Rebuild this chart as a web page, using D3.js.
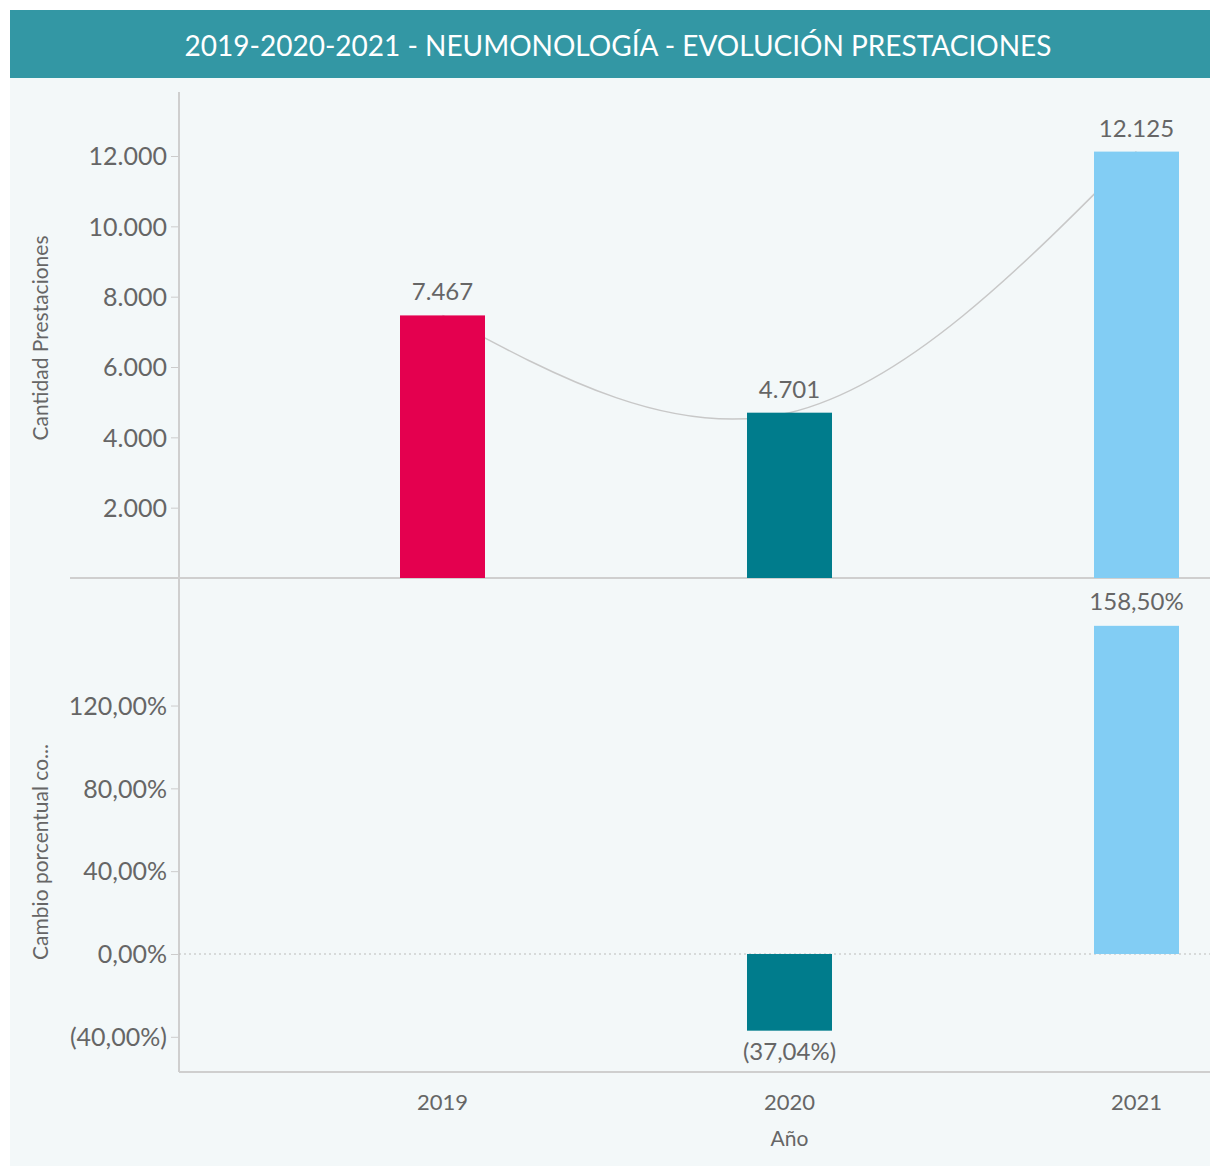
<!DOCTYPE html>
<html>
<head>
<meta charset="utf-8">
<script src="https://cdn.jsdelivr.net/npm/d3@7"></script>
<style>
  body { margin: 0; background: #fff; font-family: Lato, "Open Sans", sans-serif; }
  .tick text { fill: #666; font-size: 25px; font-family: Lato, sans-serif; }
  .lbl { fill: #666; font-size: 24px; }
</style>
</head>
<body>
<svg id="chart" width="1210" height="1166"></svg>
<script>
const years = ['2019', '2020', '2021'];
const prestaciones = [7467, 4701, 12125];
const cambio = [null, -37.04, 158.50];
const barColors = ['#E4004F', '#007C8C', '#82CDF4'];
const qtyTicks = [2000, 4000, 6000, 8000, 10000, 12000];
const pctTicks = [-40, 0, 40, 80, 120];

const title = '2019-2020-2021 - NEUMONOLOGÍA - EVOLUCIÓN PRESTACIONES';

const svg = d3.select('#chart');
const W = 1210;
const axisX = 179, midY = 578;

const fmtQty = v => d3.format(',')(v).replace(/,/g, '.');
const fmtPct = v => {
  const s = Math.abs(v).toFixed(2).replace('.', ',') + '%';
  return v < 0 ? `(${s})` : s;
};

// background + title
svg.append('rect').attr('x', 10).attr('y', 78).attr('width', W - 10).attr('height', 1088).attr('fill', '#F3F8F9');
svg.append('rect').attr('x', 10).attr('y', 10).attr('width', W - 10).attr('height', 68).attr('fill', '#3397A4');
svg.append('text')
  .attr('x', 618).attr('y', 56)
  .attr('text-anchor', 'middle')
  .attr('fill', '#fff')
  .attr('font-size', 28)
  .text(title);

const x = d3.scaleBand().domain(years).range([269, 1310]);
const cx = d => x(d) + x.bandwidth() / 2;
const barW = 85;

const yTop = d3.scaleLinear().domain([0, 13820]).range([midY, 92]);
const yBot = d3.scaleLinear().domain([-57, 181.6]).range([1072, midY]);

// axes
const axTop = svg.append('g').attr('transform', `translate(${axisX},0)`)
  .call(d3.axisLeft(yTop).tickValues(qtyTicks).tickFormat(fmtQty).tickSize(8).tickPadding(4));
const axBot = svg.append('g').attr('transform', `translate(${axisX},0)`)
  .call(d3.axisLeft(yBot).tickValues(pctTicks).tickFormat(fmtPct).tickSize(8).tickPadding(4));
[axTop, axBot].forEach(a => {
  a.select('.domain').remove();
  a.selectAll('.tick line').attr('stroke', '#ccc');
  a.selectAll('.tick text').attr('dy', '0.35em');
});

svg.append('line').attr('x1', axisX).attr('x2', axisX).attr('y1', 92).attr('y2', 1072)
  .attr('stroke', '#cfcfcf').attr('stroke-width', 2);
svg.append('line').attr('x1', 70).attr('x2', W).attr('y1', midY).attr('y2', midY)
  .attr('stroke', '#cfcfcf').attr('stroke-width', 2);
svg.append('line').attr('x1', axisX).attr('x2', W).attr('y1', 1072).attr('y2', 1072)
  .attr('stroke', '#cfcfcf').attr('stroke-width', 2);
svg.append('line').attr('x1', axisX).attr('x2', W).attr('y1', yBot(0)).attr('y2', yBot(0))
  .attr('stroke', '#bbb').attr('stroke-width', 1.2).attr('stroke-dasharray', '2,3');

// smooth trend line through the yearly totals
svg.append('path')
  .datum(years.map((yr, i) => [cx(yr), yTop(prestaciones[i])]))
  .attr('d', d3.line().curve(d3.curveNatural))
  .attr('fill', 'none').attr('stroke', '#c8c8c8').attr('stroke-width', 1.5);

// top bars
years.forEach((yr, i) => {
  svg.append('rect')
    .attr('x', cx(yr) - barW / 2).attr('width', barW)
    .attr('y', yTop(prestaciones[i])).attr('height', midY - yTop(prestaciones[i]))
    .attr('fill', barColors[i]);
  svg.append('text').attr('class', 'lbl')
    .attr('x', cx(yr)).attr('y', yTop(prestaciones[i]) - 15)
    .attr('text-anchor', 'middle')
    .text(fmtQty(prestaciones[i]));
});

// bottom bars
years.forEach((yr, i) => {
  const v = cambio[i];
  if (v === null) return;
  const y0 = yBot(0), y1 = yBot(v);
  svg.append('rect')
    .attr('x', cx(yr) - barW / 2).attr('width', barW)
    .attr('y', Math.min(y0, y1)).attr('height', Math.abs(y1 - y0))
    .attr('fill', barColors[i]);
  svg.append('text').attr('class', 'lbl')
    .attr('x', cx(yr)).attr('y', v >= 0 ? y1 - 16 : y1 + 29)
    .attr('text-anchor', 'middle')
    .text(fmtPct(v));
});

// year labels and axis titles
years.forEach(yr => {
  svg.append('text').attr('x', cx(yr)).attr('y', 1110)
    .attr('text-anchor', 'middle').attr('fill', '#666').attr('font-size', 22).text(yr);
});
svg.append('text').attr('x', cx('2020')).attr('y', 1146)
  .attr('text-anchor', 'middle').attr('fill', '#666').attr('font-size', 21).text('Año');

svg.append('text')
  .attr('transform', 'translate(48,338) rotate(-90)')
  .attr('text-anchor', 'middle').attr('fill', '#666').attr('font-size', 21)
  .text('Cantidad Prestaciones');
svg.append('text')
  .attr('transform', 'translate(48,852) rotate(-90)')
  .attr('text-anchor', 'middle').attr('fill', '#666').attr('font-size', 21)
  .text('Cambio porcentual co...');
</script>
</body>
</html>
